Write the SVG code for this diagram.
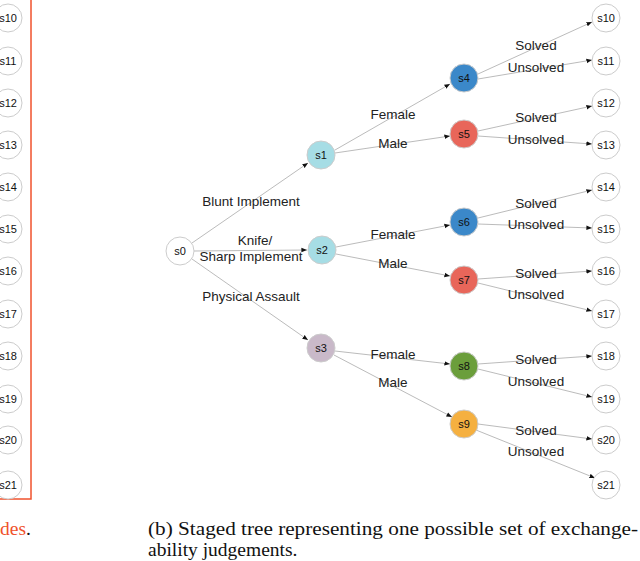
<svg xmlns="http://www.w3.org/2000/svg" width="640" height="561" viewBox="0 0 640 561">
<defs><marker id="a" viewBox="0 0 10 10" refX="10" refY="5" markerWidth="7" markerHeight="7" orient="auto"><path d="M0,1L10,5L0,9z" fill="#111"/></marker>
<style>.n{stroke:#ccc;stroke-width:1}.t{font-family:"Liberation Sans",Arial,sans-serif;font-size:11px;text-anchor:middle;dominant-baseline:central;fill:#111}.l{font-family:"Liberation Sans",Arial,sans-serif;font-size:13.5px;text-anchor:middle;fill:#222}.e{stroke:#aaa;stroke-width:0.8;fill:none;marker-end:url(#a)}.c{font-family:"Liberation Serif","Times New Roman",serif;font-size:19.5px}</style></defs>
<rect x="-5" y="-2" width="36" height="501" fill="none" stroke="#f0522c" stroke-width="1.5"/>
<g id="left">
<circle class="n" cx="8" cy="18" r="14" fill="#fff"/><text class="t" x="8" y="18">s10</text>
<circle class="n" cx="8" cy="61" r="14" fill="#fff"/><text class="t" x="8" y="61">s11</text>
<circle class="n" cx="8" cy="103" r="14" fill="#fff"/><text class="t" x="8" y="103">s12</text>
<circle class="n" cx="8" cy="145" r="14" fill="#fff"/><text class="t" x="8" y="145">s13</text>
<circle class="n" cx="8" cy="187" r="14" fill="#fff"/><text class="t" x="8" y="187">s14</text>
<circle class="n" cx="8" cy="229" r="14" fill="#fff"/><text class="t" x="8" y="229">s15</text>
<circle class="n" cx="8" cy="271" r="14" fill="#fff"/><text class="t" x="8" y="271">s16</text>
<circle class="n" cx="8" cy="314" r="14" fill="#fff"/><text class="t" x="8" y="314">s17</text>
<circle class="n" cx="8" cy="356" r="14" fill="#fff"/><text class="t" x="8" y="356">s18</text>
<circle class="n" cx="8" cy="399" r="14" fill="#fff"/><text class="t" x="8" y="399">s19</text>
<circle class="n" cx="8" cy="440" r="14" fill="#fff"/><text class="t" x="8" y="440">s20</text>
<circle class="n" cx="8" cy="485" r="14" fill="#fff"/><text class="t" x="8" y="485">s21</text>
</g>
<g id="edges">
<path class="e" d="M192,243L308,163"/><path class="e" d="M194,251L307,250"/><path class="e" d="M192,259L308,340"/>
<path class="e" d="M335,150L450,84"/><path class="e" d="M335,153L450,136"/>
<path class="e" d="M336,247L450,225"/><path class="e" d="M336,254L450,276"/>
<path class="e" d="M335,351L450,364"/><path class="e" d="M334,355L452,417"/>
<path class="e" d="M478,74L592,22"/><path class="e" d="M478,79L592,60"/>
<path class="e" d="M478,131L592,106"/><path class="e" d="M478,136L592,144"/>
<path class="e" d="M478,218L592,190"/><path class="e" d="M478,224L592,228"/>
<path class="e" d="M478,279L592,271"/><path class="e" d="M478,283L592,311"/>
<path class="e" d="M478,364L592,356"/><path class="e" d="M478,369L592,397"/>
<path class="e" d="M478,424L592,439"/><path class="e" d="M476,430L595,478"/>
</g>
<g id="labels">
<text class="l" x="251" y="206">Blunt Implement</text>
<text class="l" x="255" y="245">Knife/</text><text class="l" x="251" y="261">Sharp Implement</text>
<text class="l" x="251" y="301">Physical Assault</text>
<text class="l" x="393" y="119">Female</text><text class="l" x="393" y="148">Male</text>
<text class="l" x="393" y="239">Female</text><text class="l" x="393" y="268">Male</text>
<text class="l" x="393" y="359">Female</text><text class="l" x="393" y="387">Male</text>
<text class="l" x="536" y="50">Solved</text><text class="l" x="536" y="72">Unsolved</text>
<text class="l" x="536" y="122">Solved</text><text class="l" x="536" y="144">Unsolved</text>
<text class="l" x="536" y="208">Solved</text><text class="l" x="536" y="229">Unsolved</text>
<text class="l" x="536" y="278">Solved</text><text class="l" x="536" y="299">Unsolved</text>
<text class="l" x="536" y="364">Solved</text><text class="l" x="536" y="386">Unsolved</text>
<text class="l" x="536" y="435">Solved</text><text class="l" x="536" y="456">Unsolved</text>
</g>
<g id="s0"><circle class="n" cx="180" cy="251" r="14" fill="#fff"/><text class="t" x="180" y="251">s0</text></g>
<g id="s1"><circle class="n" cx="321" cy="155" r="14" fill="#a6dde5"/><text class="t" x="321" y="155">s1</text></g>
<g id="s2"><circle class="n" cx="322" cy="250" r="14" fill="#a6dde5"/><text class="t" x="322" y="250">s2</text></g>
<g id="s3"><circle class="n" cx="321" cy="348" r="14" fill="#c9b9c9"/><text class="t" x="321" y="348">s3</text></g>
<g id="s4"><circle class="n" cx="464" cy="78" r="14" fill="#3b88c9"/><text class="t" x="464" y="78">s4</text></g>
<g id="s5"><circle class="n" cx="464" cy="134" r="14" fill="#e8665a"/><text class="t" x="464" y="134">s5</text></g>
<g id="s6"><circle class="n" cx="464" cy="222" r="14" fill="#3b88c9"/><text class="t" x="464" y="222">s6</text></g>
<g id="s7"><circle class="n" cx="464" cy="280" r="14" fill="#e8665a"/><text class="t" x="464" y="280">s7</text></g>
<g id="s8"><circle class="n" cx="464" cy="366" r="14" fill="#6b9e3b"/><text class="t" x="464" y="366">s8</text></g>
<g id="s9"><circle class="n" cx="464" cy="424" r="14" fill="#f5b040"/><text class="t" x="464" y="424">s9</text></g>
<g id="leaves">
<circle class="n" cx="606" cy="18" r="14" fill="#fff"/><text class="t" x="606" y="18">s10</text>
<circle class="n" cx="606" cy="61" r="14" fill="#fff"/><text class="t" x="606" y="61">s11</text>
<circle class="n" cx="606" cy="103" r="14" fill="#fff"/><text class="t" x="606" y="103">s12</text>
<circle class="n" cx="606" cy="145" r="14" fill="#fff"/><text class="t" x="606" y="145">s13</text>
<circle class="n" cx="606" cy="187" r="14" fill="#fff"/><text class="t" x="606" y="187">s14</text>
<circle class="n" cx="606" cy="229" r="14" fill="#fff"/><text class="t" x="606" y="229">s15</text>
<circle class="n" cx="606" cy="271" r="14" fill="#fff"/><text class="t" x="606" y="271">s16</text>
<circle class="n" cx="606" cy="314" r="14" fill="#fff"/><text class="t" x="606" y="314">s17</text>
<circle class="n" cx="606" cy="356" r="14" fill="#fff"/><text class="t" x="606" y="356">s18</text>
<circle class="n" cx="606" cy="399" r="14" fill="#fff"/><text class="t" x="606" y="399">s19</text>
<circle class="n" cx="606" cy="440" r="14" fill="#fff"/><text class="t" x="606" y="440">s20</text>
<circle class="n" cx="606" cy="485" r="14" fill="#fff"/><text class="t" x="606" y="485">s21</text>
</g>
<text class="c" x="0" y="535"><tspan fill="#f0522c">des</tspan><tspan fill="#111">.</tspan></text>
<text class="c" x="148" y="535" fill="#111" textLength="490" lengthAdjust="spacingAndGlyphs">(b) Staged tree representing one possible set of exchange-</text>
<text class="c" x="148" y="556" fill="#111">ability judgements.</text>
</svg>
